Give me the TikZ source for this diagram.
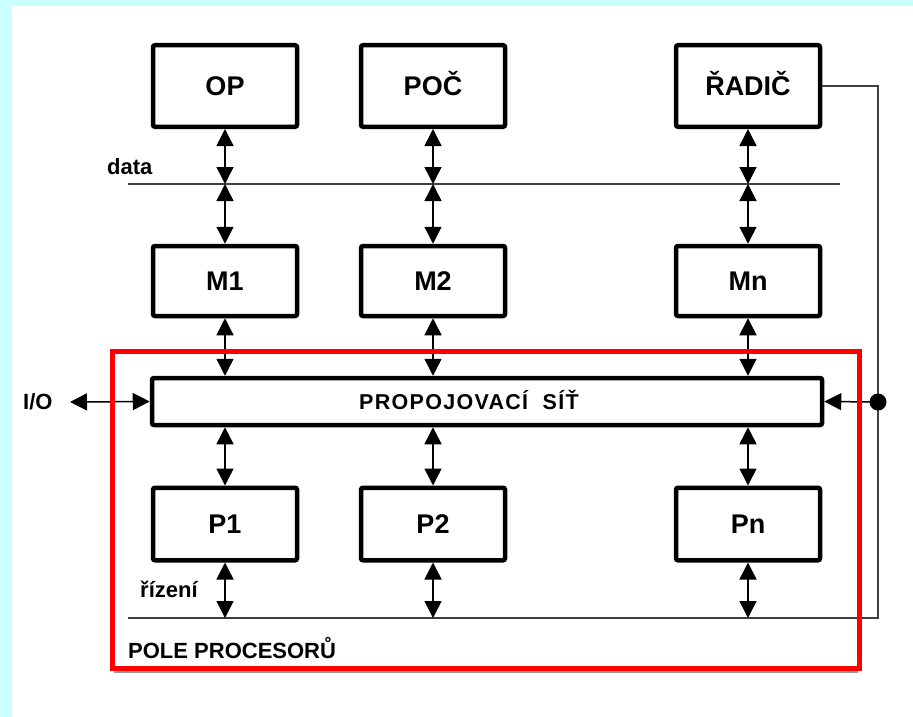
\documentclass[tikz,border=0pt]{standalone}
\usepackage{fontspec}
\setmainfont{Liberation Sans}
\newfontfamily\widefont[LetterSpace=6]{Liberation Sans}
\usetikzlibrary{arrows.meta,positioning}
\definecolor{bgcyan}{RGB}{204,255,255}
\definecolor{fieldred}{RGB}{255,0,0}

\begin{document}
\begin{tikzpicture}[x=1pt,y=-1pt,>={Triangle[width=17pt,length=17pt]},on grid,
  unit/.style={draw,line width=4.5pt,rounded corners=2pt,fill=white,
    minimum width=144pt,text height=19.3pt,text depth=0pt,
    font=\bfseries\fontsize{27}{30}\selectfont},
  tag/.style={inner sep=0pt,font=\bfseries\fontsize{22}{24}\selectfont}]
  \fill[bgcyan] (0,0) rectangle (913,717);
  \fill[white] (12,6) rectangle (913,717);
  \node[unit,minimum height=81.5pt] (OP)                       at (225,86) {OP};
  \node[unit,minimum height=81.5pt] (POC)   [right=208pt of OP]         {POČ};
  \node[unit,minimum height=81.5pt] (RADIC) [right=315pt of POC]        {ŘADIČ};
  \node[unit,minimum height=70pt]   (M1)    [below=195pt of OP]         {M1};
  \node[unit,minimum height=70pt]   (M2)    [below=195pt of POC]        {M2};
  \node[unit,minimum height=70pt]   (Mn)    [below=195pt of RADIC]      {Mn};
  \node[unit,minimum height=72.5pt] (P1)    [below=243pt of M1]         {P1};
  \node[unit,minimum height=72.5pt] (P2)    [below=243pt of M2]         {P2};
  \node[unit,minimum height=72.5pt] (Pn)    [below=243pt of Mn]         {Pn};
  \node[unit,minimum width=670pt,minimum height=47pt,text height=15.5pt,
    font=\widefont\bfseries\fontsize{21.5}{24}\selectfont]
    (NET) at (487,401.5) {PROPOJOVACÍ\ \ SÍŤ\hspace*{36pt}};
  \node[tag,anchor=base west] (datatag) at (107,174) {data};
  \node[tag,anchor=base west] (ctltag)  at (140,597) {řízení};
  \node[tag,anchor=base west] (fieldtag) at (128,658) {POLE PROCESORŮ};
  \node[tag,anchor=base west] (io)      at (23,409)  {I/O};
  \coordinate (dataL) at (128,184);
  \coordinate (dataR) at (840,184);
  \coordinate (ctlL)  at (128,618);
  \coordinate (ctlR)  at (878,618);
  \coordinate (tap)   at (878,402);
  \coordinate (ioTip) at (70,402);
\tikzset{wire/.style={line width=1.3pt,black!75}}
\draw[wire] (dataL) -- (dataR);
\draw[wire] (RADIC.east) -| (ctlR) -- (ctlL);
\fill (tap) circle (8.5pt);
\tikzset{link/.style={<->,line width=1.5pt}}
\path (OP)    edge [link] (OP |- dataL)
      (POC)   edge [link] (POC |- dataL)
      (RADIC) edge [link] (RADIC |- dataL)
      (OP |- dataL)    edge [link] (M1)
      (POC |- dataL)   edge [link] (M2)
      (RADIC |- dataL) edge [link] (Mn);
\path (M1)    edge [link] (M1 |- NET.north)
      (M2)    edge [link] (M2 |- NET.north)
      (Mn)    edge [link] (Mn |- NET.north)
      (P1 |- NET.south) edge [link] (P1)
      (P2 |- NET.south) edge [link] (P2)
      (Pn |- NET.south) edge [link] (Pn);
\path (P1)    edge [link] (P1 |- ctlL)
      (P2)    edge [link] (P2 |- ctlL)
      (Pn)    edge [link] (Pn |- ctlL)
      (ioTip) edge [link] (NET.west);
\tikzset{link/.style={->,line width=1.5pt}}
\path (tap)   edge [link] (NET.east);
\draw[line width=2.5pt,black!40] (114,671.5) -- (858,671.5);
\draw[draw=fieldred,line width=5pt] (112,351) rectangle (859,668);
\end{tikzpicture}
\end{document}
